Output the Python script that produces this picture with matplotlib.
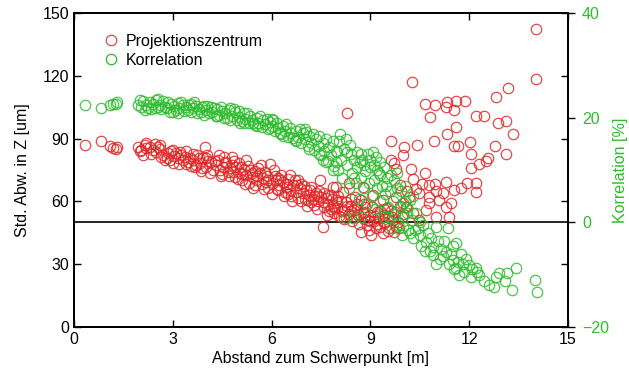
import numpy as np
import matplotlib
matplotlib.use('Agg')
import matplotlib.pyplot as plt

plt.rcParams['font.family'] = ['Liberation Sans', 'DejaVu Sans']

# Projektionszentrum: (Abstand [m], Std. Abw. [um])
proj_pts = [
	(0.33,86.9),(0.81,89.0),(1.09,86.5),(1.19,85.4),(1.29,84.9),(1.32,85.9),
	(1.95,86.1),(2.0,84.0),(2.05,84.6),(2.15,86.8),(2.2,85.4),(2.3,86.1),(2.35,82.5),(2.4,84.6),
	(2.5,83.8),(2.55,86.0),(2.61,84.9),(2.7,82.0),(2.75,79.8),(2.81,80.6),(2.91,79.8),(2.95,84.0),
	(3.05,81.5),(3.11,83.0),(3.15,80.5),(3.21,83.8),(3.26,82.2),(3.3,80.0),(3.36,81.4),(3.45,79.0),
	(3.52,80.6),(3.62,79.8),(3.68,76.5),(3.72,77.4),(3.8,80.5),(3.82,78.2),(3.9,76.0),(3.92,80.6),
	(3.99,86.1),(4.02,76.6),
	(4.08,79.5),(4.17,79.0),(4.22,75.0),(4.32,77.4),(4.38,80.0),(4.42,75.0),(4.5,73.0),(4.52,76.6),
	(4.6,79.0),(4.62,78.2),(4.7,72.0),(4.73,75.8),(4.8,77.5),(4.83,74.2),(4.9,71.5),(4.93,76.6),(5.0,78.5),
	(5.03,73.4),(5.1,70.0),(5.15,75.5),(5.23,72.6),(5.3,69.0),(5.33,75.0),(5.4,73.5),(5.43,71.8),
	(5.5,68.0),(5.53,70.2),(5.6,76.0),(5.64,73.4),(5.7,68.5),(5.74,71.0),(5.8,74.0),(5.84,69.4),
	(5.9,66.5),(5.94,77.9),
	(6.04,68.6),(6.1,72.0),(6.14,70.2),(6.2,65.5),(6.24,67.8),(6.3,72.5),(6.34,69.4),(6.4,64.5),
	(6.44,67.0),(6.5,70.5),(6.55,65.4),(6.6,62.5),(6.65,67.8),(6.7,70.0),(6.75,64.6),(6.8,61.5),
	(6.85,66.2),(6.9,68.5),(6.95,63.8),
	(7.05,65.4),(7.1,60.5),(7.15,63.1),(7.2,67.0),(7.25,61.0),(7.3,58.5),(7.35,64.0),(7.4,60.0),
	(7.47,70.2),(7.5,62.0),(7.56,47.9),(7.6,57.5),(7.65,61.5),(7.7,59.0),(7.75,55.5),(7.8,63.0),
	(7.85,58.0),(7.86,67.0),(7.9,54.5),(7.95,60.5),(7.96,67.0),
	(8.0,57.0),(8.05,53.0),(8.1,60.0),(8.15,55.5),(8.16,64.6),(8.2,51.5),(8.29,102.1),(8.3,58.0),
	(8.35,54.0),(8.36,68.7),(8.4,61.0),(8.45,50.5),(8.5,56.0),(8.55,52.5),(8.6,59.0),(8.65,49.0),
	(8.72,45.5),(8.77,54.5),(8.77,67.0),(8.8,51.5),(8.85,57.5),(8.9,48.5),(8.97,46.4),(9.0,53.5),
	(9.02,44.0),(9.07,63.0),(9.1,50.5),(9.17,47.2),(9.2,55.0),(9.25,52.0),(9.3,48.0),(9.37,44.8),
	(9.37,60.7),(9.4,53.5),(9.45,50.0),(9.5,57.0),(9.55,46.0),(9.58,47.2),(9.62,88.9),(9.63,79.6),
	(9.65,52.5),(9.68,51.1),(9.71,78.2),(9.75,55.0),(9.78,47.9),(9.78,62.3),(9.79,75.6),(9.85,50.0),
	(9.9,58.0),(9.9,68.0),(9.98,82.0),(9.98,59.1),(10.0,54.0),(10.03,85.9),
	(2.1,82.0),(2.45,87.5),(2.65,81.0),(2.85,83.0),(3.0,78.5),(3.2,78.0),(3.4,84.0),(3.55,77.0),
	(3.75,82.0),(3.85,74.5),(4.05,82.0),(4.12,73.5),(4.27,79.5),(4.45,72.0),(4.57,81.0),(4.67,74.0),
	(4.87,79.5),(4.97,70.5),(5.07,76.5),(5.2,68.5),(5.27,77.0),(5.45,66.5),(5.57,72.0),(5.67,77.5),
	(5.77,66.0),(5.87,72.0),(6.0,63.5),(6.07,75.0),(6.17,66.0),(6.27,70.0),(6.37,62.5),(6.47,68.5),
	(6.57,72.5),(6.62,60.0),(6.77,68.0),(6.88,60.0),(6.98,67.5),(7.08,58.0),(7.18,65.5),(7.28,62.5),
	(7.38,56.5),(7.45,65.0),(7.55,59.5),(7.68,53.5),(7.72,63.0),(7.83,61.0),(7.92,57.0),(8.03,62.5),
	(8.12,52.5),(8.25,59.5),(8.42,55.5),(8.52,62.0),(8.62,53.5),(8.7,60.5),(8.82,55.0),(8.92,51.0),
	(9.05,57.5),(9.13,53.0),(9.28,55.5),(9.42,49.5),(9.52,53.0),(9.62,55.5),(9.72,45.5),(9.88,47.5),
	(9.95,52.5),
	(5.23,79.8),(2.2,88.0),(2.6,87.0),(3.0,84.5),(3.4,78.0),(3.6,82.5),(4.0,80.5),(4.4,82.0),
	(4.8,81.0),(5.1,73.0),(5.5,74.5),(5.9,70.0),(6.2,71.0),(6.5,63.5),(6.8,70.0),(7.0,61.0),
	(7.2,59.5),(7.4,62.5),(7.6,64.0),(7.8,56.5),(8.0,59.5),(8.2,56.0),(8.4,58.0),(8.6,56.5),
	(8.8,59.0),(9.0,50.5),(9.2,49.0),(9.4,56.5),
	(10.08,57.5),(10.1,65.0),(10.18,62.3),(10.22,75.6),(10.28,54.3),(10.3,70.5),(10.4,66.0),(10.42,87.1),
	(10.48,63.9),(10.48,51.1),(10.57,68.2),(10.65,73.4),(10.69,55.9),(10.79,67.8),(10.79,62.3),
	(10.79,59.1),(10.96,68.2),(10.99,52.7),(11.0,65.0),(11.09,60.7),(11.2,64.0),(11.29,69.4),
	(11.29,57.5),(11.44,59.1),(11.39,52.7),(11.55,65.6),(11.75,66.3),(11.93,68.9),(12.2,68.7),
	(12.2,64.6),
	(10.26,116.9),(14.03,142.4),(14.04,118.3),(10.66,106.7),(10.96,105.9),(11.32,107.5),(11.30,104.9),
	(11.59,108.1),(11.87,107.8),(11.55,103.5),(10.81,100.2),(12.20,100.7),(12.46,100.7),(12.82,109.7),
	(13.17,114.0),(12.86,97.5),(13.11,98.3),(13.32,92.1),(11.59,95.6),(11.32,92.4),(10.93,88.7),
	(11.55,86.6),(11.67,86.6),(12.01,88.5),(12.07,82.8),(12.77,86.6),(13.11,82.8),(12.31,77.9),
	(12.52,79.2),(12.57,80.7),(12.06,75.8),
]

# Korrelation: (Abstand [m], Korrelation [%])
korr_pts = [
	(0.33,22.4),(0.81,21.8),(1.09,22.4),(1.19,22.6),(1.29,22.7),(1.32,23.0),
	(1.95,22.4),(2.05,22.1),(2.1,23.2),(2.2,22.4),(2.3,23.0),(2.35,21.6),(2.4,22.7),(2.5,23.4),
	(2.55,22.0),(2.61,22.4),(2.7,23.1),(2.81,21.8),(2.91,21.1),(2.95,22.6),
	(3.05,22.3),(3.1,21.5),(3.15,22.8),(3.2,21.9),(3.3,22.5),(3.35,21.2),(3.4,22.0),(3.5,22.4),
	(3.55,21.0),(3.6,21.8),(3.7,22.2),(3.75,20.8),(3.8,21.6),(3.9,22.0),(3.95,20.6),
	(4.0,21.4),(4.1,20.9),(4.15,22.0),(4.2,21.0),(4.3,20.3),(4.35,21.7),(4.4,20.6),(4.5,21.2),
	(4.55,19.9),(4.6,20.8),(4.7,21.4),(4.75,19.6),(4.8,20.4),(4.9,21.0),(4.95,19.5),
	(5.0,20.2),(5.1,19.4),(5.15,20.8),(5.2,19.8),(5.3,18.9),(5.35,20.4),(5.4,19.5),(5.5,18.6),
	(5.55,20.0),(5.6,19.0),(5.7,18.2),(5.75,19.6),(5.8,18.7),(5.9,17.8),(5.95,19.2),
	(6.0,18.4),(6.1,17.4),(6.15,19.0),(6.2,18.0),(6.3,16.9),(6.35,18.5),(6.4,17.5),(6.5,16.4),
	(6.55,18.0),(6.6,17.0),(6.7,15.8),(6.75,17.5),(6.8,16.4),(6.9,15.2),(6.95,17.0),
	(7.0,15.9),(7.1,14.6),(7.15,16.5),(7.2,15.2),(7.3,13.8),(7.35,15.9),(7.4,14.5),(7.5,12.8),
	(7.55,15.2),(7.6,13.6),(7.7,11.8),(7.75,14.4),(7.8,12.8),(7.9,10.8),(7.95,13.6),
	(8.0,13.5),(8.02,10.0),(8.05,15.5),(8.1,12.0),(8.15,8.5),(8.2,14.0),(8.26,0.8),(8.3,11.0),
	(8.35,6.5),(8.4,13.0),(8.45,9.5),(8.47,0.8),(8.5,12.0),(8.55,7.5),(8.6,10.5),(8.65,4.5),
	(8.7,8.5),(8.72,1.1),(8.75,12.0),(8.8,6.5),(8.85,9.8),(8.9,3.5),(8.95,7.5),
	(9.0,10.5),(9.0,12.0),(9.05,5.0),(9.1,8.0),(9.1,11.0),(9.15,2.5),(9.2,6.5),(9.2,10.0),(9.25,9.5),
	(9.3,4.0),(9.3,9.0),(9.35,7.0),(9.4,1.0),(9.45,5.5),(9.5,8.5),(9.55,3.0),(9.58,1.1),(9.6,6.0),
	(9.65,-1.0),(9.7,4.0),(9.75,1.5),(9.8,6.5),(9.85,-0.5),(9.9,3.0),(9.95,-2.5),
	(10.0,1.5),(10.0,-0.8),(10.05,4.0),(10.1,1.7),(10.15,-1.5),(10.2,4.3),(10.2,-2.1),(10.25,0.5),
	(10.3,-3.0),(10.4,1.7),(10.45,-1.0),(10.5,-2.4),(10.55,-4.5),(10.6,-0.5),(10.7,-3.7),(10.75,-2.0),
	(10.8,-5.5),(10.9,-4.7),(10.9,-6.2),(11.0,-0.8),(11.05,-3.5),(11.1,-7.0),
	(11.15,-5.0),(11.2,-6.5),(11.3,-5.6),(11.35,-1.1),(11.4,-8.0),(11.45,-6.0),(11.5,-7.2),
	(11.55,-9.0),(11.6,-4.0),(11.6,-8.8),(11.65,-7.5),(11.7,-10.1),(11.8,-8.0),(11.85,-9.5),
	(11.9,-7.0),(12.0,-8.2),(12.05,-10.5),
	(12.1,-9.0),(12.2,-8.8),(12.25,-9.4),(12.3,-10.0),(12.45,-11.3),(12.6,-12.0),(12.75,-12.3),
	(12.8,-10.4),(12.9,-9.7),(13.1,-11.3),(13.16,-9.6),(13.3,-12.9),(13.41,-8.8),(14.0,-11.1),
	(14.05,-13.3),
	(2.0,23.4),(2.25,21.8),(2.45,21.9),(2.65,21.6),(2.85,22.9),(3.0,21.1),(3.25,23.0),(3.45,21.5),
	(3.65,22.9),(3.85,21.1),(4.05,22.3),(4.25,21.8),(4.45,22.0),(4.65,20.0),(4.85,21.7),(5.05,19.0),
	(5.25,20.9),(5.45,19.0),(5.65,20.4),(5.85,19.8),(6.05,19.5),(6.25,17.0),(6.45,18.8),(6.65,16.2),
	(6.85,17.8),(7.05,17.2),(7.25,16.8),(7.45,16.5),(7.65,16.0),(7.85,15.5),(7.45,13.0),(7.65,11.5),
	(7.85,10.0),(8.08,16.8),(8.25,16.0),(8.38,14.8),(8.58,13.5),(8.68,11.5),(8.82,11.0),(8.92,13.0),
	(9.08,13.5),(9.18,12.5),(9.3,11.5),(9.42,10.5),(9.48,7.0),(9.62,9.0),(9.72,8.0),(9.82,9.5),
	(9.92,6.0),(10.05,7.0),(10.12,3.0),(10.3,5.0),(10.35,-1.5),(10.5,0.0),(10.65,-5.5),(10.85,-3.0),
	(11.0,-8.0),(11.25,-3.5),(11.5,-4.5),(11.75,-6.0),
	(2.15,21.5),(2.55,23.6),(2.75,22.0),(3.15,20.9),(3.55,22.7),(3.95,22.2),(4.35,20.4),(4.75,21.8),
	(5.15,19.0),(5.55,18.4),(5.95,18.0),(6.35,16.5),(6.75,15.5),(7.15,14.0),(7.55,12.0),(7.95,11.5),
	(8.3,13.5),(8.5,8.5),(8.7,13.0),(5.0,21.2),(6.0,19.8),(7.0,17.8),
]

red = '#e02828'
green = '#2cbd2c'

proj = np.array(proj_pts)
korr = np.array(korr_pts)

fig = plt.figure(figsize=(6.29,3.76),dpi=100)
ax = fig.add_axes([0.1176,0.1303,0.7854,0.8351])
ax2 = ax.twinx()

ax.plot(proj[:,0],proj[:,1],'o',mfc='none',mec=red,ms=7.5,mew=0.9,alpha=0.85,
	label='Projektionszentrum')
ax2.plot(korr[:,0],korr[:,1],'o',mfc='none',mec=green,ms=7.5,mew=0.9,alpha=0.85)
# dummy handle so both entries sit in one legend
ax.plot([],[],'o',mfc='none',mec=green,ms=7.5,mew=0.9,label='Korrelation')
ax.axhline(50,color='k',lw=1.2,zorder=0)

ax.set_xlim(0,15)
ax.set_ylim(0,150)
ax.set_xticks(np.arange(0,16,3))
ax.set_yticks(np.arange(0,151,30))
ax.tick_params(direction='in',top=True,right=True,length=5,width=1,labelsize=11.5)
ax2.set_ylim(-20,40)
ax2.set_yticks([-20,0,20,40])
ax2.tick_params(direction='out',length=5,width=1,labelsize=11.5,labelcolor=green,pad=5)
for a in (ax,ax2):
	for s in a.spines.values():
		s.set_linewidth(1.3)

ax.set_xlabel('Abstand zum Schwerpunkt [m]',fontsize=11.5,labelpad=3)
ax.set_ylabel('Std. Abw. in Z [um]',fontsize=11.5,labelpad=9)
ax2.set_ylabel('Korrelation [%]',fontsize=11.5,color=green,labelpad=3)

ax.legend(loc='upper left',bbox_to_anchor=(0.03,0.975),frameon=False,fontsize=11.5,
	handletextpad=0.3,borderpad=0.3,labelspacing=0.25,handlelength=1.2)

fig.savefig('out.png',dpi=100)
